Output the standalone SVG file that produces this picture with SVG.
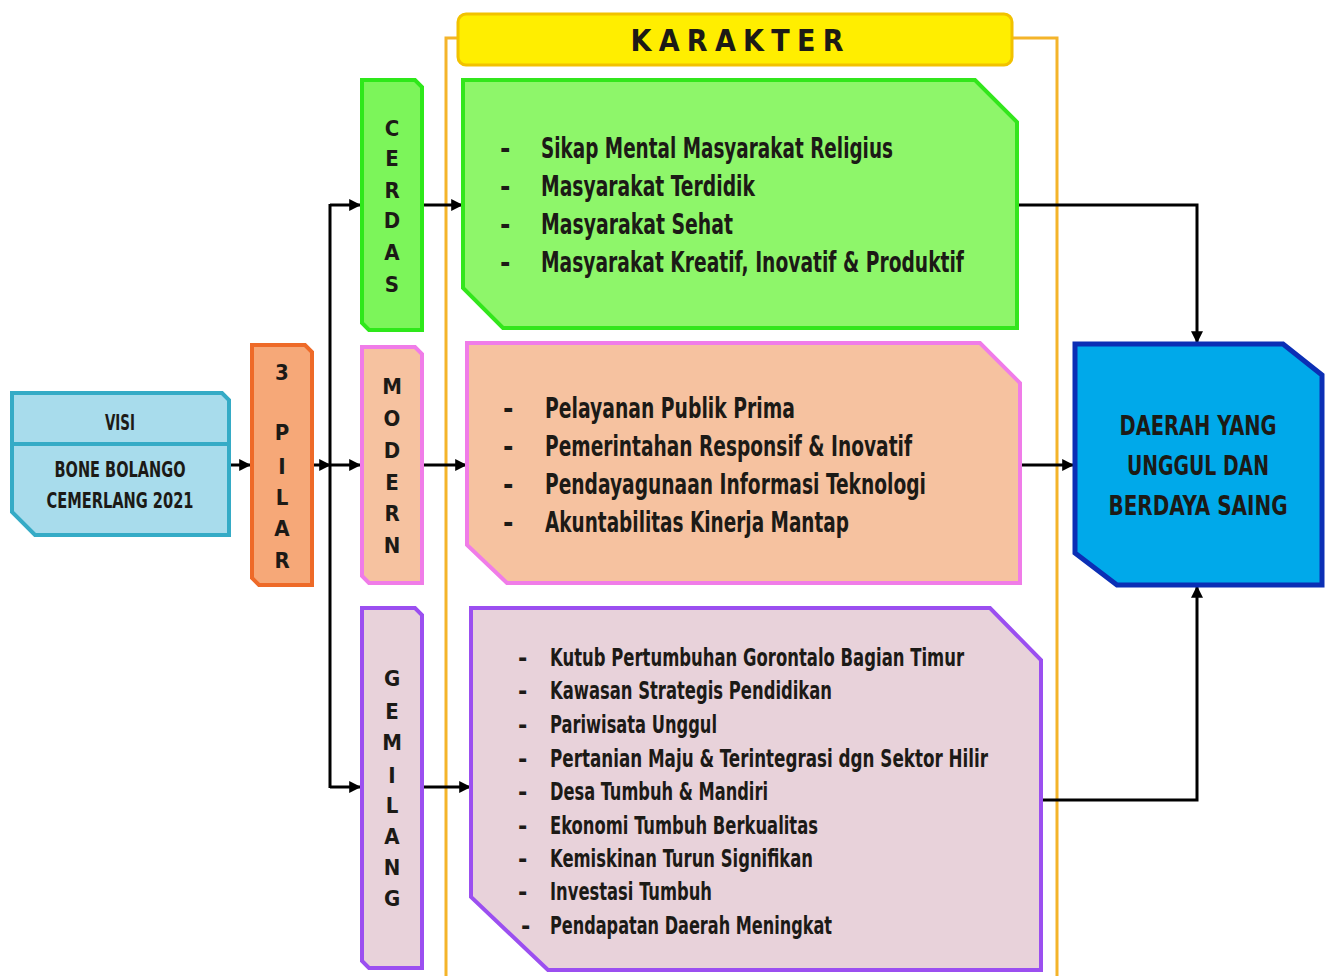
<svg xmlns="http://www.w3.org/2000/svg" width="1330" height="976" viewBox="0 0 1330 976">
<style>
.t{font-family:"Liberation Sans Narrow","DejaVu Sans Condensed","Liberation Sans",sans-serif;font-weight:bold;fill:#1c1a16}
.big{font-size:28px}
.mid{font-size:25px}
.v{font-size:22px;text-anchor:middle}
.c{text-anchor:middle}
.ln{fill:none;stroke:#000;stroke-width:3}
.frame{fill:none;stroke:#f4b42a;stroke-width:3}
</style>
<defs>
<marker id="ah" viewBox="0 0 10 10" refX="9" refY="5" markerWidth="4" markerHeight="4" orient="auto" markerUnits="strokeWidth">
<path d="M0,0 L10,5 L0,10 z" fill="#000"/>
</marker>
</defs>
<rect width="1330" height="976" fill="#fff"/>

<g id="frame">
<polyline class="frame" points="446,976 446,38 460,38"/>
<polyline class="frame" points="1010,38 1057,38 1057,976"/>
</g>

<g id="karakter">
<rect x="458" y="14" width="554" height="51" rx="8" fill="#ffee00" stroke="#f2c200" stroke-width="3"/>
<text class="t c" x="737" y="51" font-size="30" textLength="213" lengthAdjust="spacing">KARAKTER</text>
</g>

<g id="connectors">
<line class="ln" x1="230" y1="465" x2="250" y2="465" marker-end="url(#ah)"/>
<line class="ln" x1="313" y1="465" x2="330" y2="465" marker-end="url(#ah)"/>
<line class="ln" x1="330" y1="204" x2="330" y2="788"/>
<polyline class="ln" points="330,205 360,205" marker-end="url(#ah)"/>
<polyline class="ln" points="330,465 360,465" marker-end="url(#ah)"/>
<polyline class="ln" points="330,787 360,787" marker-end="url(#ah)"/>
<line class="ln" x1="422" y1="205" x2="462" y2="205" marker-end="url(#ah)"/>
<line class="ln" x1="422" y1="465" x2="466" y2="465" marker-end="url(#ah)"/>
<line class="ln" x1="422" y1="787" x2="470" y2="787" marker-end="url(#ah)"/>
<polyline class="ln" points="1017,205 1197,205 1197,342" marker-end="url(#ah)"/>
<line class="ln" x1="1020" y1="465" x2="1073" y2="465" marker-end="url(#ah)"/>
<polyline class="ln" points="1041,800 1197,800 1197,587" marker-end="url(#ah)"/>
</g>

<g id="visi">
<polygon points="12,393 222,393 229,400 229,535 35,535 12,512" fill="#a8dcec" stroke="#35abc6" stroke-width="4"/>
<line x1="12" y1="444" x2="229" y2="444" stroke="#35abc6" stroke-width="4"/>
<text class="t c" x="120" y="430" font-size="22" textLength="30" lengthAdjust="spacingAndGlyphs">VISI</text>
<text class="t c" x="120" y="477" font-size="22" textLength="131" lengthAdjust="spacingAndGlyphs">BONE BOLANGO</text>
<text class="t c" x="120" y="508" font-size="22" textLength="147" lengthAdjust="spacingAndGlyphs">CEMERLANG 2021</text>
</g>

<g id="pilar">
<polygon points="252,345 305,345 312,352 312,585 259,585 252,578" fill="#f6a878" stroke="#ee6a28" stroke-width="4"/>
<text class="t v" x="282" y="380">3</text>
<text class="t v" x="282" y="440">P</text>
<text class="t v" x="282" y="474">I</text>
<text class="t v" x="282" y="505">L</text>
<text class="t v" x="282" y="536">A</text>
<text class="t v" x="282" y="568">R</text>
</g>

<g id="cerdas">
<polygon points="362,80 415,80 422,87 422,330 369,330 362,323" fill="#7cf55a" stroke="#2ee81a" stroke-width="4"/>
<text class="t v" x="392" y="136">C</text>
<text class="t v" x="392" y="166">E</text>
<text class="t v" x="392" y="198">R</text>
<text class="t v" x="392" y="228">D</text>
<text class="t v" x="392" y="260">A</text>
<text class="t v" x="392" y="292">S</text>
</g>

<g id="modern">
<polygon points="362,347 415,347 422,354 422,583 369,583 362,576" fill="#f6c2a0" stroke="#f07ce8" stroke-width="4"/>
<text class="t v" x="392" y="394">M</text>
<text class="t v" x="392" y="426">O</text>
<text class="t v" x="392" y="458">D</text>
<text class="t v" x="392" y="490">E</text>
<text class="t v" x="392" y="521">R</text>
<text class="t v" x="392" y="553">N</text>
</g>

<g id="gemilang">
<polygon points="362,608 415,608 422,615 422,968 369,968 362,961" fill="#e8d2da" stroke="#9b4ff0" stroke-width="4"/>
<text class="t v" x="392" y="686">G</text>
<text class="t v" x="392" y="719">E</text>
<text class="t v" x="392" y="750">M</text>
<text class="t v" x="392" y="783">I</text>
<text class="t v" x="392" y="813">L</text>
<text class="t v" x="392" y="844">A</text>
<text class="t v" x="392" y="875">N</text>
<text class="t v" x="392" y="906">G</text>
</g>

<g id="box-cerdas">
<polygon points="463,80 975,80 1017,122 1017,328 503,328 463,288" fill="#8ef66a" stroke="#33e61c" stroke-width="4"/>
<text class="t big" x="500" y="158">-</text>
<text class="t big" x="541" y="158" textLength="352" lengthAdjust="spacingAndGlyphs">Sikap Mental Masyarakat Religius</text>
<text class="t big" x="500" y="196">-</text>
<text class="t big" x="541" y="196" textLength="214" lengthAdjust="spacingAndGlyphs">Masyarakat Terdidik</text>
<text class="t big" x="500" y="234">-</text>
<text class="t big" x="541" y="234" textLength="192" lengthAdjust="spacingAndGlyphs">Masyarakat Sehat</text>
<text class="t big" x="500" y="272">-</text>
<text class="t big" x="541" y="272" textLength="423" lengthAdjust="spacingAndGlyphs">Masyarakat Kreatif, Inovatif &amp; Produktif</text>
</g>

<g id="box-modern">
<polygon points="467,343 980,343 1020,383 1020,583 507,583 467,545" fill="#f6c2a0" stroke="#f07ce8" stroke-width="4"/>
<text class="t big" x="503" y="418">-</text>
<text class="t big" x="545" y="418" textLength="250" lengthAdjust="spacingAndGlyphs">Pelayanan Publik Prima</text>
<text class="t big" x="503" y="456">-</text>
<text class="t big" x="545" y="456" textLength="367" lengthAdjust="spacingAndGlyphs">Pemerintahan Responsif &amp; Inovatif</text>
<text class="t big" x="503" y="494">-</text>
<text class="t big" x="545" y="494" textLength="381" lengthAdjust="spacingAndGlyphs">Pendayagunaan Informasi Teknologi</text>
<text class="t big" x="503" y="532">-</text>
<text class="t big" x="545" y="532" textLength="304" lengthAdjust="spacingAndGlyphs">Akuntabilitas Kinerja Mantap</text>
</g>

<g id="box-gemilang">
<polygon points="471,608 990,608 1041,660 1041,970 548,970 471,897" fill="#e8d2da" stroke="#9b4ff0" stroke-width="4"/>
<text class="t mid" x="518" y="666">-</text>
<text class="t mid" x="550" y="666" textLength="414" lengthAdjust="spacingAndGlyphs">Kutub Pertumbuhan Gorontalo Bagian Timur</text>
<text class="t mid" x="518" y="699">-</text>
<text class="t mid" x="550" y="699" textLength="282" lengthAdjust="spacingAndGlyphs">Kawasan Strategis Pendidikan</text>
<text class="t mid" x="518" y="733">-</text>
<text class="t mid" x="550" y="733" textLength="167" lengthAdjust="spacingAndGlyphs">Pariwisata Unggul</text>
<text class="t mid" x="518" y="767">-</text>
<text class="t mid" x="550" y="767" textLength="438" lengthAdjust="spacingAndGlyphs">Pertanian Maju &amp; Terintegrasi dgn Sektor Hilir</text>
<text class="t mid" x="518" y="800">-</text>
<text class="t mid" x="550" y="800" textLength="218" lengthAdjust="spacingAndGlyphs">Desa Tumbuh &amp; Mandiri</text>
<text class="t mid" x="518" y="834">-</text>
<text class="t mid" x="550" y="834" textLength="268" lengthAdjust="spacingAndGlyphs">Ekonomi Tumbuh Berkualitas</text>
<text class="t mid" x="518" y="867">-</text>
<text class="t mid" x="550" y="867" textLength="263" lengthAdjust="spacingAndGlyphs">Kemiskinan Turun Signifikan</text>
<text class="t mid" x="518" y="900">-</text>
<text class="t mid" x="550" y="900" textLength="162" lengthAdjust="spacingAndGlyphs">Investasi Tumbuh</text>
<text class="t mid" x="521" y="934">-</text>
<text class="t mid" x="550" y="934" textLength="282" lengthAdjust="spacingAndGlyphs">Pendapatan Daerah Meningkat</text>
</g>

<g id="result">
<polygon points="1075,344 1283,344 1322,375 1322,585 1117,585 1075,553" fill="#00a9ea" stroke="#0b2fb5" stroke-width="5"/>
<text class="t c" x="1198" y="435" font-size="27" textLength="157" lengthAdjust="spacingAndGlyphs">DAERAH YANG</text>
<text class="t c" x="1198" y="475" font-size="27" textLength="142" lengthAdjust="spacingAndGlyphs">UNGGUL DAN</text>
<text class="t c" x="1198" y="515" font-size="27" textLength="179" lengthAdjust="spacingAndGlyphs">BERDAYA SAING</text>
</g>
</svg>
